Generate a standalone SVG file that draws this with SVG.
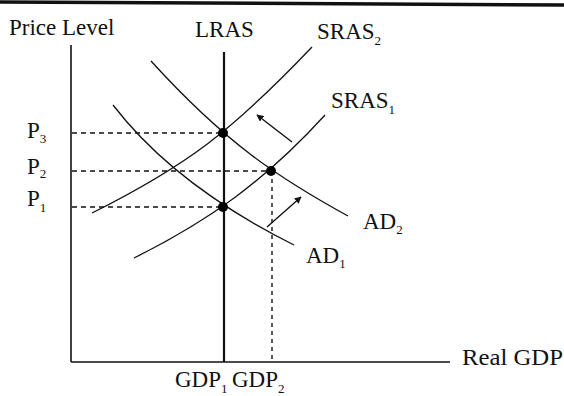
<svg xmlns="http://www.w3.org/2000/svg" width="564" height="396" viewBox="0 0 564 396">
  <style>
    text { font-family: "Liberation Serif", "Times New Roman", serif; font-size: 23px; fill: #111; }
    .sub { font-size: 13px; }
    .ax { stroke: #111; stroke-width: 1.6; fill: none; }
    .curve { stroke: #111; stroke-width: 1.3; fill: none; }
    .dash { stroke: #111; stroke-width: 1.5; stroke-dasharray: 5 4; fill: none; }
    .vdash { stroke: #111; stroke-width: 1.4; stroke-dasharray: 4 4; fill: none; }
    .arrow { stroke: #111; stroke-width: 1.4; fill: none; marker-end: url(#ah); }
    .dot { fill: #000; }
  </style>
  <defs>
    <marker id="ah" viewBox="0 0 10 10" refX="9" refY="5" markerWidth="7" markerHeight="7" markerUnits="userSpaceOnUse" orient="auto">
      <path d="M0,0 L10,5 L0,10 z" fill="#111"/>
    </marker>
  </defs>
  <rect width="564" height="396" fill="#fff"/>
  <line x1="0" y1="2" x2="564" y2="5" stroke="#111" stroke-width="3.5"/>

  <g id="axes">
    <line class="ax" x1="71" y1="45" x2="71" y2="362"/>
    <line class="ax" x1="71" y1="362" x2="450" y2="362"/>
    <text x="9" y="35">Price Level</text>
    <text x="462" y="365" textLength="101" lengthAdjust="spacingAndGlyphs">Real GDP</text>
  </g>

  <g id="guides">
    <line class="dash" x1="72" y1="133" x2="223" y2="133"/>
    <line class="dash" x1="72" y1="171" x2="271" y2="171"/>
    <line class="dash" x1="72" y1="207" x2="223" y2="207"/>
    <line class="vdash" x1="272" y1="171" x2="272" y2="361"/>
    <text x="27" y="138">P<tspan class="sub" dy="5">3</tspan></text>
    <text x="27" y="174">P<tspan class="sub" dy="4">2</tspan></text>
    <text x="27" y="206">P<tspan class="sub" dy="6">1</tspan></text>
    <text x="175" y="387">GDP<tspan class="sub" dy="6">1</tspan></text>
    <text x="232" y="387">GDP<tspan class="sub" dy="6">2</tspan></text>
  </g>

  <g id="lras">
    <line x1="224" y1="52" x2="224" y2="362" stroke="#111" stroke-width="2.2"/>
    <text x="195" y="37">LRAS</text>
  </g>

  <g id="sras2">
    <path class="curve" d="M92,213 C187,165.5 232,131 312,47"/>
    <text x="317" y="39">SRAS<tspan class="sub" dy="6">2</tspan></text>
  </g>

  <g id="sras1">
    <path class="curve" d="M134,258 C209,220.5 265,181 325,115"/>
    <text x="331" y="108">SRAS<tspan class="sub" dy="6">1</tspan></text>
  </g>

  <g id="ad2">
    <path class="curve" d="M151,61 C226,143.5 278,177.5 348,216"/>
    <text x="363" y="229">AD<tspan class="sub" dy="5">2</tspan></text>
  </g>

  <g id="ad1">
    <path class="curve" d="M113,105 C163,170 234,215 294,245"/>
    <text x="306" y="263">AD<tspan class="sub" dy="5">1</tspan></text>
  </g>

  <g id="points">
    <circle class="dot" cx="223" cy="133" r="5"/>
    <circle class="dot" cx="271" cy="171" r="5"/>
    <circle class="dot" cx="223" cy="207" r="5"/>
  </g>

  <g id="connectors">
    <line class="arrow" x1="292" y1="142" x2="257" y2="115"/>
    <line class="arrow" x1="267" y1="227" x2="301" y2="197"/>
  </g>
</svg>
